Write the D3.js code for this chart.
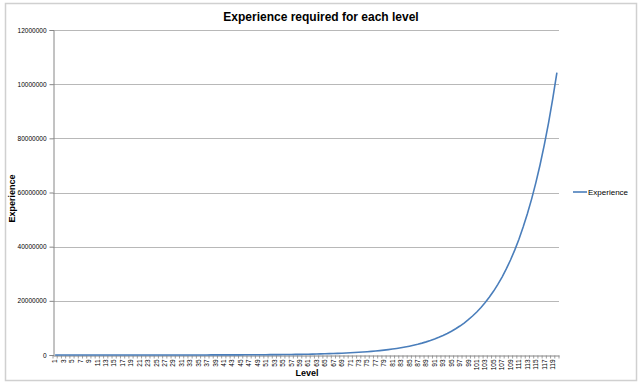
<!DOCTYPE html>
<meta charset="utf-8">
<style>
  body { margin: 0; background: #fff; }
  svg { font-family: "Liberation Sans", Arial, sans-serif; }
  .tick text { fill: #000; }
</style>
<body>
<div id="chart"></div>
<script src="https://d3js.org/d3.v7.min.js"></script>
<script>
  // experience needed to reach each level (1..120)
  var levels = d3.range(1, 121);
  var experience = [
    0, 83, 174, 276, 388, 512, 650, 801, 969, 1154,
    1358, 1584, 1833, 2107, 2411, 2746, 3115, 3523, 3973, 4470,
    5018, 5624, 6291, 7028, 7842, 8740, 9730, 10824, 12031, 13363,
    14833, 16456, 18247, 20224, 22406, 24815, 27473, 30408, 33648, 37224,
    41171, 45529, 50339, 55649, 61512, 67983, 75127, 83014, 91721, 101333,
    111945, 123660, 136594, 150872, 166636, 184040, 203254, 224466, 247886, 273742,
    302288, 333804, 368599, 407015, 449428, 496254, 547953, 605032, 668051, 737627,
    814445, 899257, 992895, 1096278, 1210421, 1336443, 1475581, 1629200, 1798808, 1986068,
    2192818, 2421087, 2673114, 2951373, 3258594, 3597792, 3972294, 4385776, 4842295, 5346332,
    5902831, 6517253, 7195629, 7944614, 8771558, 9684577, 10692629, 11805606, 13034431, 14391160,
    15889109, 17542976, 19368992, 21385073, 23611006, 26068632, 28782069, 31777943, 35085654, 38737661,
    42769801, 47221641, 52136869, 57563718, 63555443, 70170840, 77474828, 85539082, 94442737, 104273167
  ];
  var yTicks = [0, 20000000, 40000000, 60000000, 80000000, 100000000, 120000000];
  // labels as they appear (clipped) on the original
  var yTickLabels = ["0", "20000000", "40000000", "60000000", "80000000", "10000000", "12000000"];
  var xTickLabels = levels.filter(function (d) { return d % 2 == 1; });

  var width = 640, height = 384;
  var plotLeft = 53, plotRight = 559, plotTop = 30, plotBottom = 355;

  var svg = d3.select("#chart").append("svg")
          .attr("width", width)
          .attr("height", height);

  // outer chart border
  svg.append("rect")
          .attr("x", 5.5).attr("y", 3.5)
          .attr("width", 631).attr("height", 377)
          .attr("fill", "#fff")
          .attr("stroke", "#d0d0d0")
          .attr("stroke-width", 1.5);

  var x = d3.scaleBand().domain(levels).range([plotLeft, plotRight]);
  var y = d3.scaleLinear().domain([0, 120000000]).range([plotBottom, plotTop]);

  // gridlines
  svg.selectAll("line.grid").data(yTicks.filter(function (d) { return d > 0; })).enter()
          .append("line")
          .attr("class", "grid")
          .attr("x1", plotLeft).attr("x2", plotRight)
          .attr("y1", function (d) { return Math.round(y(d)) + 0.5; })
          .attr("y2", function (d) { return Math.round(y(d)) + 0.5; })
          .attr("stroke", "#b8b8b8")
          .attr("stroke-width", 1);

  // y axis
  var yAxis = svg.append("g")
          .attr("transform", "translate(" + (plotLeft + 0.5) + ",0)")
          .call(d3.axisLeft(y).tickValues(yTicks).tickSize(4).tickPadding(3)
                  .tickFormat(function (d, i) { return yTickLabels[i]; }));
  yAxis.select(".domain").attr("stroke", "#868686");
  yAxis.selectAll(".tick line").attr("stroke", "#868686");
  yAxis.selectAll(".tick text").attr("font-size", 6.5).attr("fill", "#000");

  // x axis
  var xAxis = svg.append("g")
          .attr("transform", "translate(0," + (Math.round(y(0)) + 0.5) + ")")
          .call(d3.axisBottom(x).tickValues(xTickLabels).tickSize(0).tickPadding(3));
  xAxis.select(".domain").attr("stroke", "#868686");
  xAxis.selectAll(".tick text")
          .attr("font-size", 6.5)
          .attr("transform", "rotate(-90)")
          .attr("text-anchor", "end")
          .attr("dx", "-0.6em")
          .attr("dy", "0.35em")
          .attr("x", 0).attr("y", 0);
  // tick marks at category boundaries
  svg.selectAll("line.xtick").data(levels.concat([121])).enter()
          .append("line")
          .attr("class", "xtick")
          .attr("x1", function (d) { return d == 121 ? plotRight : x(d); })
          .attr("x2", function (d) { return d == 121 ? plotRight : x(d); })
          .attr("y1", Math.round(y(0)) + 0.5)
          .attr("y2", Math.round(y(0)) + 3.5)
          .attr("stroke", "#868686")
          .attr("stroke-width", 0.8);

  // series line
  var line = d3.line()
          .x(function (d, i) { return x(levels[i]) + x.bandwidth() / 2; })
          .y(function (d) { return y(d); });
  svg.append("path")
          .datum(experience)
          .attr("d", line)
          .attr("fill", "none")
          .attr("stroke", "#4a7ebb")
          .attr("stroke-width", 1.6);

  // titles
  svg.append("text")
          .attr("x", 321).attr("y", 21)
          .attr("text-anchor", "middle")
          .attr("font-size", 12)
          .attr("font-weight", "bold")
          .text("Experience required for each level");

  svg.append("text")
          .attr("transform", "translate(14.5," + ((plotTop + plotBottom) / 2 + 6) + ") rotate(-90)")
          .attr("text-anchor", "middle")
          .attr("font-size", 9)
          .attr("font-weight", "bold")
          .text("Experience");

  svg.append("text")
          .attr("x", 307).attr("y", 376)
          .attr("text-anchor", "middle")
          .attr("font-size", 9)
          .attr("font-weight", "bold")
          .text("Level");

  // legend
  var legend = svg.append("g").attr("transform", "translate(573,192)");
  legend.append("line")
          .attr("x1", 0).attr("x2", 14)
          .attr("y1", 0).attr("y2", 0)
          .attr("stroke", "#4a7ebb")
          .attr("stroke-width", 1.6);
  legend.append("text")
          .attr("x", 15).attr("y", 3)
          .attr("font-size", 8)
          .text("Experience");
</script>
</body>
